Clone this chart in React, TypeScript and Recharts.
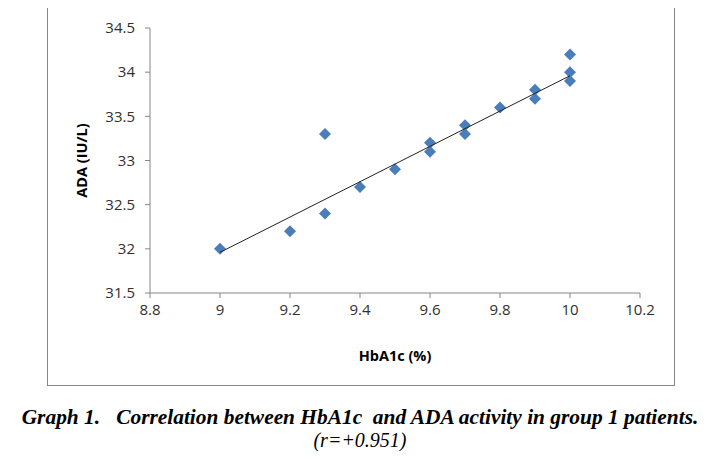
import React from 'react';
import { ScatterChart, Scatter, XAxis, YAxis } from 'recharts';

// HbA1c (%) vs ADA (IU/L), group 1 patients
const hba1c = [9, 9.2, 9.3, 9.3, 9.4, 9.5, 9.6, 9.6, 9.7, 9.7, 9.8, 9.9, 9.9, 10, 10, 10];
const ada = [32, 32.2, 32.4, 33.3, 32.7, 32.9, 33.2, 33.1, 33.4, 33.3, 33.6, 33.8, 33.7, 34.2, 34, 33.9];

// trend line end points
const trendX = [9, 10];
const trendY = [31.96, 33.96];

const xTicks = [8.8, 9, 9.2, 9.4, 9.6, 9.8, 10, 10.2];
const yTicks = [31.5, 32, 32.5, 33, 33.5, 34, 34.5];

const points = hba1c.map((x, i) => ({ x, y: ada[i] }));
const trend = trendX.map((x, i) => ({ x, y: trendY[i] }));

const AXIS = '#868686';
const BLUE = '#4A7EBB';
const tickStyle = { fill: '#303030', fontSize: 15, fontFamily: 'Open Sans' };
const titleStyle = { fill: '#000', fontSize: 14.5, fontWeight: 700, fontFamily: 'Open Sans' };

const Diamond = (props: any) => {
  const { cx, cy } = props;
  if (cx == null || cy == null) return <g />;
  const r = 6;
  return (
    <polygon
      points={`${cx},${cy - r} ${cx + r},${cy} ${cx},${cy + r} ${cx - r},${cy}`}
      fill={BLUE}
    />
  );
};

const caption = {
  position: 'absolute' as const,
  left: 0,
  width: 720,
  textAlign: 'center' as const,
  fontFamily: 'Liberation Serif',
  fontStyle: 'italic',
  fontSize: 20,
  lineHeight: '19px',
  whiteSpace: 'pre' as const,
  color: '#000',
};

export default function App() {
  return (
    <div style={{ position: 'relative', width: 707, height: 459, margin: -8, background: '#fff' }}>
      <div
        style={{
          position: 'absolute',
          left: 47,
          top: 7,
          width: 628,
          height: 379,
          border: `1px solid ${AXIS}`,
          boxSizing: 'border-box',
        }}
      >
        <ScatterChart
          width={626}
          height={377}
          margin={{ top: 20, right: 34, left: 30, bottom: 22 }}
        >
          <XAxis
            type="number"
            dataKey="x"
            domain={[8.8, 10.2]}
            ticks={xTicks}
            allowDataOverflow
            height={70}
            tick={tickStyle}
            tickSize={5}
            tickMargin={6}
            axisLine={{ stroke: AXIS }}
            tickLine={{ stroke: AXIS }}
            label={{
              value: 'HbA1c (%)',
              position: 'insideBottom',
              offset: 2,
              style: titleStyle,
            }}
          />
          <YAxis
            type="number"
            dataKey="y"
            domain={[31.5, 34.5]}
            ticks={yTicks}
            allowDataOverflow
            width={72}
            tick={tickStyle}
            tickSize={5}
            tickMargin={10}
            axisLine={{ stroke: AXIS }}
            tickLine={{ stroke: AXIS }}
            label={{
              value: 'ADA (IU/L)',
              angle: -90,
              position: 'insideLeft',
              dx: -1,
              style: { ...titleStyle, textAnchor: 'middle' },
            }}
          />
          <Scatter data={points} shape={Diamond} isAnimationActive={false} />
          <Scatter
            data={trend}
            line={{ stroke: '#222', strokeWidth: 1 }}
            lineType="joint"
            shape={() => <g />}
            isAnimationActive={false}
          />
        </ScatterChart>
      </div>
      <div style={{ ...caption, top: 408, fontWeight: 700, fontSize: 21.4 }}>
        {'Graph 1.   Correlation between HbA1c  and ADA activity in group 1 patients.'}
      </div>
      <div style={{ ...caption, top: 431 }}>(r=+0.951)</div>
    </div>
  );
}
